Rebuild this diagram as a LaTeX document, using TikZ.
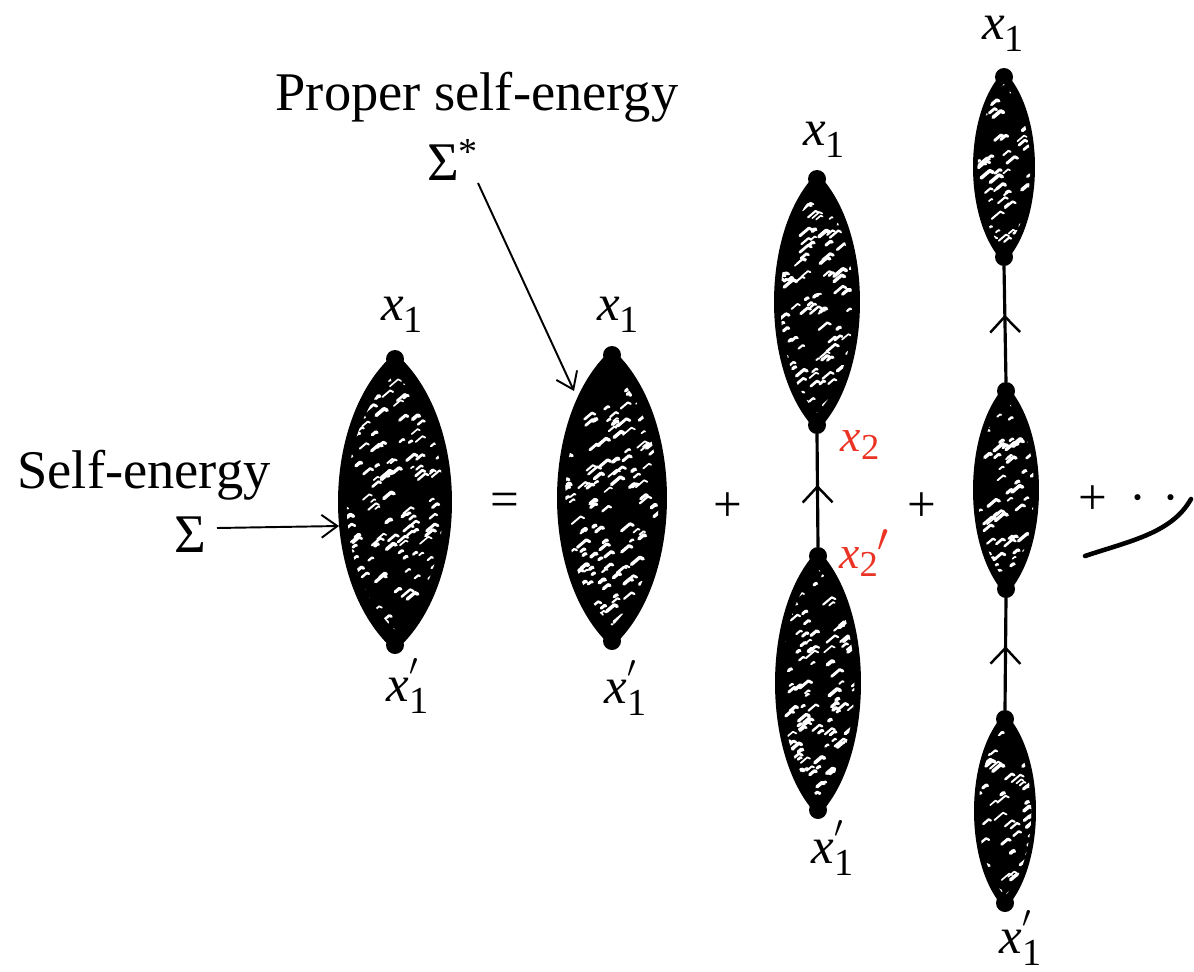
\documentclass[tikz,border=0pt]{standalone}
\usepackage{graphicx}
\usepackage{fontspec}
\setmainfont{Liberation Serif}
\newfontfamily\tmsfont{Liberation Serif}
\usetikzlibrary{arrows.meta,decorations.markings}
\definecolor{pen}{rgb}{0.92,0.2,0.14}
\newcommand{\xone}{\textit{x}\raisebox{-0.5ex}{\scalebox{0.75}{1}}}
\newcommand{\xonep}{\textit{x}\rlap{\raisebox{-0.5ex}{\scalebox{0.75}{1}}}\raisebox{1.1ex}{\scalebox{0.7}{$\prime$}}\hspace{0.15em}}
\newcommand{\xtwo}{\textit{x}\raisebox{-0.4ex}{\scalebox{0.8}{2}}}
\newcommand{\xtwop}{\textit{x}\raisebox{-0.4ex}{\scalebox{0.8}{2}}\raisebox{0.8ex}{\scalebox{0.9}{$\prime$}}}
% name, cx, cy, half width, half height, seed, specks
\newcommand{\lens}[7]{%
  \coordinate (#1) at (#2,#3);
  \coordinate (#1-t) at (#2,#3-#5);
  \coordinate (#1-b) at (#2,#3+#5);
  \fill[blob] (#2,#3-#5+3) .. controls (#2+1.333*#4,#3-0.55*#5) and (#2+1.333*#4,#3+0.55*#5) .. (#2,#3+#5-3)
     .. controls (#2-1.333*#4,#3+0.55*#5) and (#2-1.333*#4,#3-0.55*#5) .. cycle;
  \fill[blob] (#2,#3-#5+9) circle[radius=9];
  \fill[blob] (#2,#3+#5-9) circle[radius=9];
  \begin{scope}
    \clip (#2,#3-0.84*#5) .. controls (#2+1.13*#4,#3-0.46*#5) and (#2+1.13*#4,#3+0.46*#5) .. (#2,#3+0.84*#5)
       .. controls (#2-1.13*#4,#3+0.46*#5) and (#2-1.13*#4,#3-0.46*#5) .. cycle;
    \pgfmathsetseed{#6}
    \foreach \k in {1,...,#7}{
      \pgfmathsetmacro\rx{#2+rand*#4}
      \pgfmathsetmacro\ry{#3+rand*#5}
      \pgfmathsetmacro\ll{2+7*rnd}
      \pgfmathsetmacro\lw{0.9+1.2*rnd}
      \draw[speck, line width=\lw pt] (\rx,\ry) -- ++(\ll,-0.85*\ll) -- ++(0.4*\ll,0.2*\ll);
    }
  \end{scope}
}
\begin{document}
\begin{tikzpicture}[x=0.02cm,y=-0.02cm,
  every node/.style={font=\tmsfont\fontsize{29}{32}\selectfont, inner sep=0pt},
  big/.style={font=\tmsfont\fontsize{31}{34}\selectfont},
  blob/.style={fill=black},
  speck/.style={white, line cap=round, line join=round},
  arr/.style={line width=1.1pt, -{Straight Barb[length=9pt,width=13pt,line width=1.1pt]}},
  conn/.style={line width=1.8pt},
  uparrow/.style={postaction={decorate}, decoration={markings,
     mark=at position #1 with {\arrow{Straight Barb[length=9pt,width=17pt,line width=1.4pt]}}}},
  redlbl/.style={text=pen, font=\tmsfont\fontsize{26}{28}\selectfont}]
\useasboundingbox (0,0) rectangle (1194,971);

% blobs
\lens{A}{395}{502}{57}{152}{11}{200}
\lens{B}{612}{498}{55}{152}{23}{200}
\lens{C1}{817}{302}{43}{132}{37}{140}
\lens{C2}{818}{683}{43}{136}{41}{140}
\lens{D1}{1004}{167}{31}{99}{53}{80}
\lens{D2}{1006}{490}{33}{108}{67}{90}
\lens{D3}{1005}{811}{31}{101}{79}{80}

% vertex labels
\node (A-top) at (402,315) {\xone};
\node (A-bot) at (402,686) {\xonep};
\node (B-top) at (618,315) {\xone};
\node (B-bot) at (620,688) {\xonep};
\node (C-top) at (824,140) {\xone};
\node (C-bot) at (827,848) {\xonep};
\node (D-top) at (1003,34) {\xone};
\node (D-bot) at (1015,938) {\xonep};
\node[redlbl] (x2) at (860,445) {\xtwo};
\node[redlbl] (x2p) at (864,553) {\xtwop};

% connectors between blobs
\draw[conn, uparrow=0.55] (C2-t) -- (C1-b);
\draw[conn, uparrow=0.58] (D2-t) -- (D1-b);
\draw[conn, uparrow=0.57] (D3-t) -- (D2-b);

% operators
\node (eq) at (505,505) {=};
\node (p1) at (728,507) {+};
\node (p2) at (922,507) {+};
\node[anchor=west] (p3) at (1078,500) {+\hspace{0.45em}·\hspace{0.3em}·};
\draw[line width=2.6pt, line cap=round] (1085,556) .. controls (1130,541) and (1172,533) .. (1191,499);

% annotation labels
\node[big] (pse) at (477,97) {Proper self-energy};
\node[big] (sigs) at (453,160) {Σ\textsuperscript{*}};
\node[big] (se) at (144,475) {Self-energy};
\node[big] (sig) at (190,535) {Σ};
\coordinate (sig-r) at (217,528);
\coordinate (A-l) at (339,526);
\coordinate (sigs-b) at (478,183);
\coordinate (B-l) at (574,391);
\draw[arr] (sig-r) -- (A-l);
\draw[arr] (sigs-b) -- (B-l);
\end{tikzpicture}
\end{document}
